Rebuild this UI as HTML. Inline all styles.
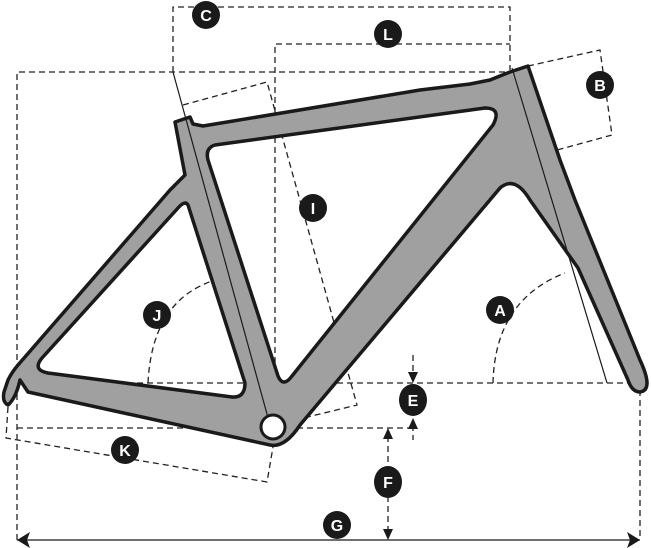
<!DOCTYPE html>
<html><head><style>html,body{margin:0;padding:0;background:#fff}svg{display:block}</style></head>
<body>
<svg width="651" height="548" viewBox="0 0 651 548" xmlns="http://www.w3.org/2000/svg">
<g fill="none" stroke="#222" stroke-width="1.3" stroke-dasharray="6,4">
<path d="M173,72 V7 H510 V70"/>
<path d="M275,383 V44 H510"/>
<path d="M17,540 V72 H510"/>
<path d="M17,383 H640 V540"/>
<path d="M17,428 H413"/>
<path d="M183,105 L267,82 L357,405 L283,423"/>
<path d="M528,66 L600,50 L612,135 L557,150"/>
<path d="M8,407 L6,438 L267,482 L273,447"/>
<path d="M148,383 Q152,300 215,280"/>
<path d="M493,383 Q495,300 565,273"/>
<path d="M413,355 V375 M413,425 V440 M388,436 V530"/>
</g>
<path fill="#a0a0a0" fill-rule="evenodd" stroke="#1a1a1a" stroke-width="3.5" stroke-linejoin="round" d="M175,122 L190,117 L193,124 L203,126 L420,90 L470,84 L490,80 L510,72 L528,66 L560,160 L575,200 L640,360 Q654,390 640,392 Q632,392 628,380 L578,268 L530,200 Q515,175 500,188 L300,425 Q285,448 270,445 L28,392 L20,380 Q16,398 8,405 Q2,402 4,392 L8,380 Q12,372 18,365 L170,190 L185,175 Z M188,205 L245,383 Q245,398 232,397 L48,373 Q32,370 42,358 L178,208 Q185,200 188,205 Z M215,145 L485,108 Q502,108 493,125 L292,376 Q283,388 278,376 L208,160 Q205,148 215,145 Z"/>
<g stroke="#1a1a1a" stroke-width="1.2" fill="none">
<path d="M173,72 L270,425"/>
<path d="M512,68 L607,383"/>
</g>
<circle cx="273" cy="427" r="12" fill="#fff" stroke="#1a1a1a" stroke-width="3"/>
<g fill="#1a1a1a" stroke="#1a1a1a" stroke-width="1.3">
<path d="M17,540 H640"/>
<path d="M17,540 L30,532 L27,540 L30,548 Z M640,540 L627,532 L630,540 L627,548 Z" stroke="none"/>
<path d="M413,383 L408,372 L418,372 Z M413,418 L408,429 L418,429 Z M388,428 L383,439 L393,439 Z M388,540 L383,529 L393,529 Z" stroke="none"/>
</g>
<g font-family="Liberation Sans, sans-serif" font-weight="bold" font-size="16" fill="#fff" text-anchor="middle">
<circle cx="206" cy="15" r="14" fill="#1a1a1a"/><text x="206" y="21">C</text>
<circle cx="388" cy="34" r="14" fill="#1a1a1a"/><text x="388" y="40">L</text>
<circle cx="600" cy="85" r="14" fill="#1a1a1a"/><text x="600" y="91">B</text>
<circle cx="313" cy="208" r="14" fill="#1a1a1a"/><text x="313" y="214">I</text>
<circle cx="157" cy="315" r="14" fill="#1a1a1a"/><text x="157" y="321">J</text>
<circle cx="500" cy="310" r="14" fill="#1a1a1a"/><text x="500" y="316">A</text>
<ellipse cx="413" cy="400" rx="14" ry="16" fill="#1a1a1a"/><text x="413" y="406">E</text>
<circle cx="125" cy="450" r="14" fill="#1a1a1a"/><text x="125" y="456">K</text>
<ellipse cx="388" cy="482" rx="14" ry="16" fill="#1a1a1a"/><text x="388" y="488">F</text>
<circle cx="337" cy="525" r="14" fill="#1a1a1a"/><text x="337" y="531">G</text>
</g>
</svg>
</body></html>
